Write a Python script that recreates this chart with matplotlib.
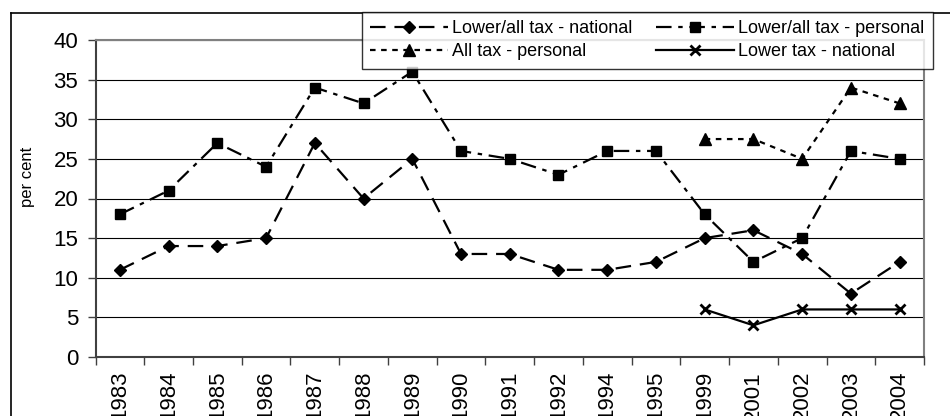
import matplotlib
matplotlib.use("Agg")
import matplotlib.pyplot as plt
from matplotlib.lines import Line2D
import numpy as np

plt.rcParams['font.family'] = ['Liberation Sans', 'DejaVu Sans']

years = ['1983', '1984', '1985', '1986', '1987', '1988', '1989', '1990', '1991',
         '1992', '1994', '1995', '1999', '2001', '2002', '2003', '2004']
nan = np.nan
lower_all_national = [11, 14, 14, 15, 27, 20, 25, 13, 13, 11, 11, 12, 15, 16, 13, 8, 12]
lower_all_personal = [18, 21, 27, 24, 34, 32, 36, 26, 25, 23, 26, 26, 18, 12, 15, 26, 25]
all_personal = [nan] * 12 + [27.5, 27.5, 25, 34, 32]
lower_national = [nan] * 12 + [6, 4, 6, 6, 6]

W, H = 950, 416
fig = plt.figure(figsize=(W / 100, H / 100), dpi=100)
ax = fig.add_axes([95.5 / W, 1 - 357 / H, 828.5 / W, 317 / H])

x = np.arange(len(years))
lw = 1.6
l1, = ax.plot(x, lower_all_national, color='black', lw=lw, ls=(0, (7, 4)),
              marker='D', ms=6.5, label='Lower/all tax - national')
l2, = ax.plot(x, lower_all_personal, color='black', lw=lw, ls=(0, (7, 3, 2, 3)),
              marker='s', ms=7, label='Lower/all tax - personal')
l3, = ax.plot(x, all_personal, color='black', lw=lw, ls=(0, (2.5, 2.5)),
              marker='^', ms=8, label='All tax - personal')
l4, = ax.plot(x, lower_national, color='black', lw=lw, ls='-',
              marker='x', ms=7.5, mew=2, label='Lower tax - national')

ax.set_xlim(-0.5, len(years) - 0.5)
ax.set_ylim(0, 40)
ax.set_yticks(range(0, 41, 5))
ax.yaxis.grid(True, color='black', lw=0.8)
ax.set_axisbelow(True)

ax.set_xticks(x)
ax.set_xticklabels(years, rotation=90, fontsize=16, va='top')
ax.set_xticks(np.arange(-0.5, len(years)), minor=True)
ax.tick_params(axis='x', which='major', length=0, pad=10)
ax.tick_params(axis='x', which='minor', length=6, width=1, color='#404040')
ax.tick_params(axis='y', length=6, width=1, labelsize=16, pad=6.5, color='#404040')
ax.set_ylabel('per cent', fontsize=12)
ax.yaxis.set_label_coords((35 - 95.5) / 828.5, (357 - 177) / 317)

for side in ['left', 'bottom']:
    ax.spines[side].set_color('#404040')
    ax.spines[side].set_linewidth(1.5)
for side in ['top', 'right']:
    ax.spines[side].set_color('#808080')
    ax.spines[side].set_linewidth(1.5)

# outer chart border (runs off the right and bottom edges)
fig.add_artist(Line2D([11 / W, 1.0], [1 - 12.5 / H] * 2, color='black', lw=1.2,
                      transform=fig.transFigure))
fig.add_artist(Line2D([11 / W] * 2, [0.0, 1 - 12.5 / H], color='black', lw=1.2,
                      transform=fig.transFigure))

leg = fig.legend([l1, l3, l2, l4],
                 [l1.get_label(), l3.get_label(), l2.get_label(), l4.get_label()],
                 ncol=2, loc='upper left', bbox_to_anchor=(362 / W, 1 - 12 / H),
                 fontsize=13, frameon=True, fancybox=False, handlelength=4.3,
                 handletextpad=0.25, columnspacing=1.3, borderpad=0.45,
                 labelspacing=0.35, borderaxespad=0)
leg.get_frame().set_edgecolor('black')
leg.get_frame().set_linewidth(1.0)

fig.savefig('out.png', dpi=100)
